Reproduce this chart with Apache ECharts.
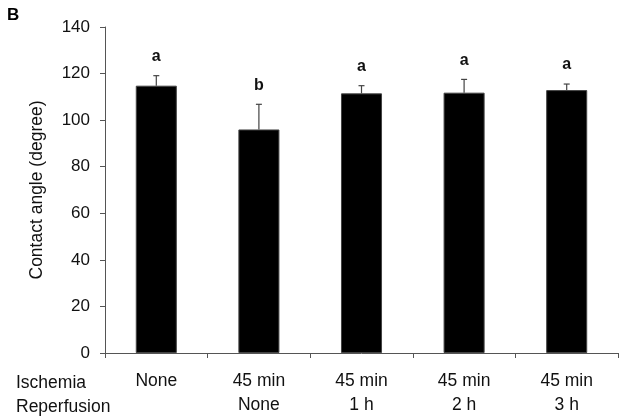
<!DOCTYPE html>
<html>
<head>
<meta charset="utf-8">
<script src="https://cdn.jsdelivr.net/npm/echarts@6/dist/echarts.min.js"></script>
<style>
  html, body { margin: 0; padding: 0; background: #fff; }
  #chart { width: 628px; height: 420px; }
</style>
</head>
<body>
<div id="chart"></div>
<script>
// 数据
const categories = ["None", "45 min\nNone", "45 min\n1 h", "45 min\n2 h", "45 min\n3 h"];
const means = [114.8, 96.0, 111.5, 111.8, 112.9];
const errors = [4.3, 10.8, 3.3, 5.7, 2.6];
const letters = ["a", "b", "a", "a", "a"];
const yTicks = [0, 20, 40, 60, 80, 100, 120, 140];

const FONT = "Liberation Sans, Arial, sans-serif";
const chart = echarts.init(document.getElementById("chart"));

const option = {
  animation: false,
  backgroundColor: "#fff",
  grid: { left: 105, right: 10, top: 27, bottom: 67, containLabel: false },
  xAxis: {
    type: "category",
    data: categories,
    axisLine: { lineStyle: { color: "#555", width: 1 } },
    axisTick: { show: true, alignWithLabel: false, length: 5, lineStyle: { color: "#555" } },
    axisLabel: {
      color: "#111",
      fontFamily: FONT,
      fontSize: 17.5,
      lineHeight: 24,
      margin: 16,
      verticalAlign: "top",
      interval: 0
    }
  },
  yAxis: {
    type: "value",
    min: yTicks[0],
    max: yTicks[yTicks.length - 1],
    interval: 20,
    name: "Contact angle (degree)",
    nameLocation: "middle",
    nameGap: 59,
    nameTextStyle: { color: "#111", fontFamily: FONT, fontSize: 17.5 },
    axisLine: { show: true, lineStyle: { color: "#555", width: 1 } },
    axisTick: { show: true, length: 5, lineStyle: { color: "#555" } },
    splitLine: { show: false },
    axisLabel: { color: "#111", fontFamily: FONT, fontSize: 17, margin: 15 }
  },
  series: [
    {
      type: "bar",
      data: means,
      barWidth: "40%",
      itemStyle: { color: "#000", borderColor: "#444", borderWidth: 1 },
      z: 2
    },
    {
      // 误差线 + 显著性字母
      type: "custom",
      z: 3,
      data: means.map((m, i) => [i, m, m + errors[i]]),
      renderItem: function (params, api) {
        const low = api.coord([api.value(0), api.value(1)]);
        const high = api.coord([api.value(0), api.value(2)]);
        const x = low[0];
        const cap = 3;
        const lineStyle = { stroke: "#444", lineWidth: 1.2 };
        return {
          type: "group",
          children: [
            { type: "line", shape: { x1: x, y1: low[1], x2: x, y2: high[1] }, style: lineStyle },
            { type: "line", shape: { x1: x - cap, y1: high[1], x2: x + cap, y2: high[1] }, style: lineStyle },
            {
              type: "text",
              style: {
                x: x,
                y: high[1] - 11,
                text: letters[params.dataIndex],
                fill: "#111",
                font: "bold 16px " + FONT,
                align: "center",
                verticalAlign: "bottom"
              }
            }
          ]
        };
      }
    }
  ],
  graphic: [
    {
      type: "text",
      left: 7,
      top: 7,
      style: { text: "B", fill: "#000", font: "bold 17px " + FONT }
    },
    {
      type: "text",
      left: 16,
      top: 371,
      style: { text: "Ischemia\nReperfusion", fill: "#111", font: "17.5px " + FONT, lineHeight: 24 }
    }
  ]
};

chart.setOption(option);
</script>
</body>
</html>
